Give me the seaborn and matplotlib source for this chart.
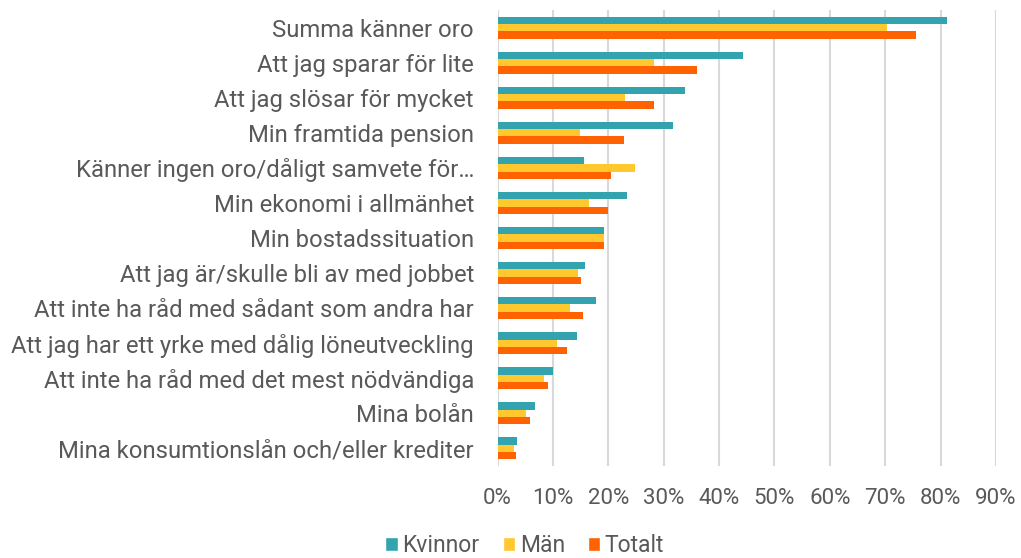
import pandas as pd
import matplotlib.pyplot as plt
import seaborn as sns
from matplotlib.ticker import PercentFormatter
from matplotlib.patches import Patch

# Data (percent)
categories = [
    "Summa känner oro",
    "Att jag sparar för lite",
    "Att jag slösar för mycket",
    "Min framtida pension",
    "Känner ingen oro/dåligt samvete för…",
    "Min ekonomi i allmänhet",
    "Min bostadssituation",
    "Att jag är/skulle bli av med jobbet",
    "Att inte ha råd med sådant som andra har",
    "Att jag har ett yrke med dålig löneutveckling",
    "Att inte ha råd med det mest nödvändiga",
    "Mina bolån",
    "Mina konsumtionslån och/eller krediter",
]
kvinnor = [81.1, 44.3, 33.8, 31.7, 15.6, 23.4, 19.2, 15.8, 17.7, 14.4, 10.0, 6.7, 3.5]
man = [70.4, 28.3, 23.1, 14.8, 24.9, 16.5, 19.3, 14.5, 13.1, 10.7, 8.3, 5.2, 2.9]
totalt = [75.5, 36.0, 28.3, 22.9, 20.4, 19.9, 19.3, 15.1, 15.4, 12.5, 9.1, 5.9, 3.3]
series = ["Kvinnor", "Män", "Totalt"]
colors = ["#33A3AF", "#FFC82E", "#FF6200"]

df = pd.DataFrame({"kategori": categories, "Kvinnor": kvinnor, "Män": man, "Totalt": totalt})
long_df = df.melt(id_vars="kategori", var_name="grupp", value_name="andel")

sns.set_style("white")
plt.rcParams['font.family'] = ['Roboto', 'DejaVu Sans']
text_color = "#595959"

fig = plt.figure(figsize=(10.21, 5.58), dpi=100)
ax = fig.add_axes([0.4873, 0.165, 0.4882, 0.817])

sns.barplot(data=long_df, y="kategori", x="andel", hue="grupp", order=categories,
            hue_order=series, palette=colors, orient="h", width=0.63,
            saturation=1, linewidth=0, legend=False, ax=ax)

ax.set_xlim(0, 90)
ax.set_ylim(12.5, -0.5)
ax.set_xticks(range(0, 91, 10))
ax.xaxis.set_major_formatter(PercentFormatter(decimals=0))
ax.grid(axis="x", color="#D9D9D9", linewidth=1.5)
ax.set_axisbelow(True)
for s in ax.spines.values():
    s.set_visible(False)
ax.tick_params(axis="y", length=0, pad=17, labelsize=17.2, labelcolor=text_color)
ax.tick_params(axis="x", length=0, pad=16, labelsize=16, labelcolor=text_color)
ax.set_xlabel("")
ax.set_ylabel("")

handles = [Patch(facecolor=c, label=s) for c, s in zip(colors, series)]
fig.legend(handles=handles, loc="lower center", bbox_to_anchor=(0.514, -0.035), ncol=3,
           frameon=False, fontsize=16.5, handlelength=0.55, handleheight=0.55,
           handletextpad=0.2, columnspacing=1.0, labelcolor=text_color)

fig.savefig("out.png", dpi=100)
